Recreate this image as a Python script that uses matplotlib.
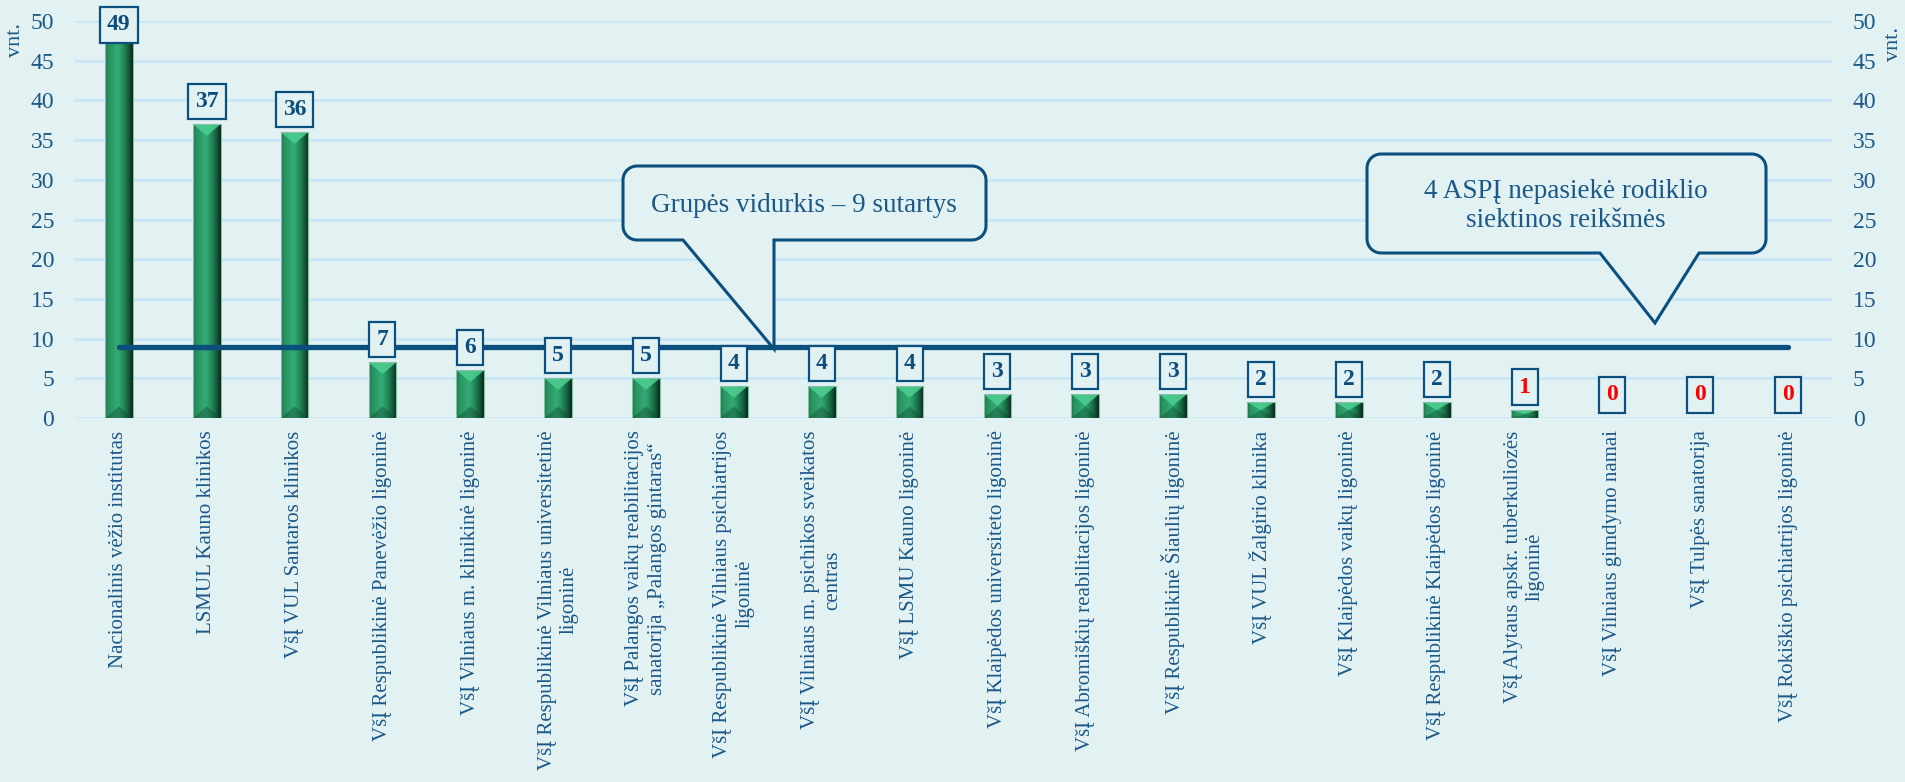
import numpy as np
import matplotlib
matplotlib.use("Agg")
import matplotlib.pyplot as plt
from matplotlib.colors import LinearSegmentedColormap
from matplotlib.patches import Polygon

CATEGORIES = [
    "Nacionalinis vėžio institutas",
    "LSMUL Kauno klinikos",
    "VšĮ VUL Santaros klinikos",
    "VšĮ Respublikinė Panevėžio ligoninė",
    "VšĮ Vilniaus m. klinikinė ligoninė",
    "VšĮ Respublikinė Vilniaus universitetinė\nligoninė",
    "VšĮ Palangos vaikų reabilitacijos\nsanatorija „Palangos gintaras“",
    "VšĮ Respublikinė Vilniaus psichiatrijos\nligoninė",
    "VšĮ Vilniaus m. psichikos sveikatos\ncentras",
    "VšĮ LSMU Kauno ligoninė",
    "VšĮ Klaipėdos universiteto ligoninė",
    "VšĮ Abromiškių reabilitacijos ligoninė",
    "VšĮ Respublikinė Šiaulių ligoninė",
    "VšĮ VUL Žalgirio klinika",
    "VšĮ Klaipėdos vaikų ligoninė",
    "VšĮ Respublikinė Klaipėdos ligoninė",
    "VšĮ Alytaus apskr. tuberkuliozės\nligoninė",
    "VšĮ Vilniaus gimdymo namai",
    "VšĮ Tulpės sanatorija",
    "VšĮ Rokiškio psichiatrijos ligoninė",
]
VALUES = [49, 37, 36, 7, 6, 5, 5, 4, 4, 4, 3, 3, 3, 2, 2, 2, 1, 0, 0, 0]
GROUP_AVG = 9
TARGET = 2
Y_TICKS = list(range(0, 51, 5))
UNIT = "vnt."
NOTE_AVG = "Grupės vidurkis – 9 sutartys"
NOTE_TARGET = "4 ASPĮ nepasiekė rodiklio\nsiektinos reikšmės"

BG = "#e2f2f3"
GRID = "#c6e6f8"
DARK = "#0b4f7f"
TEXT = "#1c5888"
W, H = 1905, 782

plt.rcParams["font.family"] = ["Liberation Serif", "DejaVu Serif"]

fig = plt.figure(figsize=(W / 100, H / 100), dpi=100, facecolor=BG)
ax = fig.add_axes([75 / W, 1 - 418 / H, (1832 - 75) / W, (418 - 21) / H])
ax.set_facecolor(BG)

x = np.arange(len(VALUES))
bar_w = 0.315
bars = ax.bar(x, VALUES, bar_w, facecolor="none", edgecolor="#86bfa3", lw=0.8, zorder=3)

# shaded green bars (gradient + bevels)
bar_cmap = LinearSegmentedColormap.from_list("bar", [
    (0.0, "#1b6a47"), (0.1, "#27905f"), (0.45, "#33ab75"),
    (0.62, "#279362"), (0.85, "#145c3c"), (1.0, "#082818")])
grad = np.linspace(0, 1, 64).reshape(1, -1)
bevel = 1.45
for i, v in enumerate(VALUES):
    if v <= 0:
        continue
    x0, x1 = i - bar_w / 2, i + bar_w / 2
    ax.imshow(grad, extent=(x0, x1, 0, v), aspect="auto", cmap=bar_cmap,
              interpolation="bilinear", zorder=2)
    d = min(bevel, v / 2)
    ax.add_patch(Polygon([(x0, v), (x1, v), (i, v - d)], closed=True,
                         facecolor="#4dd092", alpha=0.85, lw=0, zorder=2.5))
    ax.add_patch(Polygon([(x0, 0), (x1, 0), (i, d)], closed=True,
                         facecolor="#0c3b26", alpha=0.35, lw=0, zorder=2.5))

# group average line
ax.plot(x, [GROUP_AVG] * len(x), color=DARK, lw=3.8, solid_capstyle="round", zorder=4)

# value labels in boxes
for i, v in enumerate(VALUES):
    ax.text(i, min(v + 2.9, 49.5), str(v), ha="center", va="center",
            fontsize=17, fontweight="bold",
            color="#ff0000" if v < TARGET else "#0e4d7e",
            bbox=dict(boxstyle="square,pad=0.3", facecolor=BG, edgecolor=DARK, lw=1.6),
            zorder=5)

ax.set_xlim(-0.5, len(VALUES) - 0.5)
ax.set_ylim(0, 50)
ax.set_yticks(Y_TICKS)
ax.yaxis.grid(True, color=GRID, lw=1.8)
ax.set_axisbelow(True)
for s in ax.spines.values():
    s.set_visible(False)
ax.tick_params(axis="y", length=0, pad=15, labelsize=17, labelcolor=TEXT)
ax.set_xticks(x)
ax.set_xticklabels(CATEGORIES, rotation=90, ha="center", va="top",
                   multialignment="center", fontsize=15, color=TEXT)
ax.tick_params(axis="x", length=0, pad=9)

ax2 = ax.twinx()
ax2.set_ylim(0, 50)
ax2.set_yticks(Y_TICKS)
for s in ax2.spines.values():
    s.set_visible(False)
ax2.tick_params(axis="y", length=0, pad=15, labelsize=17, labelcolor=TEXT)

fig.text(15 / W, 1 - 40 / H, UNIT, rotation=90, ha="center", va="center",
         fontsize=16, color=TEXT)
fig.text(1894 / W, 1 - 44 / H, UNIT, rotation=90, ha="center", va="center",
         fontsize=16, color=TEXT)


# speech-bubble callouts, drawn in pixel space of the image
def bubble(box, base, tip, r=14):
    bx0, by0, bx1, by1 = box
    pts = []

    def arc(cx, cy, a0, a1):
        for a in np.linspace(np.radians(a0), np.radians(a1), 10):
            pts.append((cx + r * np.cos(a), cy + r * np.sin(a)))

    arc(bx0 + r, by0 + r, 180, 270)
    arc(bx1 - r, by0 + r, 270, 360)
    arc(bx1 - r, by1 - r, 0, 90)
    pts.append((base[1], by1))
    pts.append(tip)
    pts.append((base[0], by1))
    arc(bx0 + r, by1 - r, 90, 180)
    pts = [(px / W, 1 - py / H) for px, py in pts]
    fig.patches.append(Polygon(pts, closed=True, transform=fig.transFigure,
                               facecolor=BG, edgecolor=DARK, lw=2.2, zorder=6))


bubble((623, 166, 986, 240), (683, 774), (774, 349))
bubble((1367, 154, 1766, 253), (1600, 1699), (1655, 323))
fig.text(804 / W, 1 - 205 / H, NOTE_AVG, ha="center", va="center",
         fontsize=19.5, color=TEXT, zorder=7)
fig.text(1566 / W, 1 - 206 / H, NOTE_TARGET, ha="center", va="center",
         fontsize=19.5, color=TEXT, linespacing=1.2, zorder=7)

fig.savefig("out.png", dpi=100, facecolor=BG)
